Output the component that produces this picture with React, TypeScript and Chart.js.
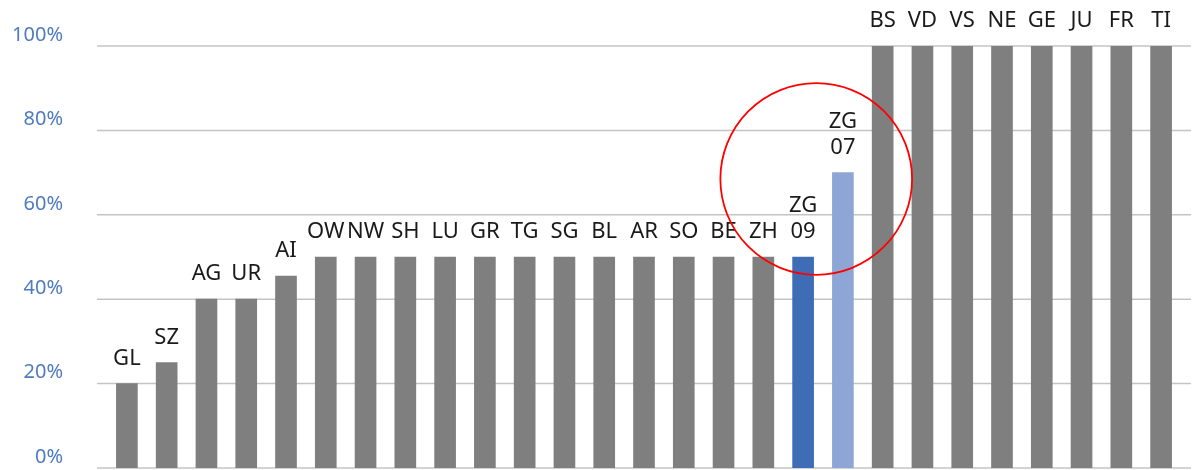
import React, { useEffect, useRef } from "react";
import { Chart, registerables } from "chart.js";

Chart.register(...registerables);

const CATEGORIES: string[] = [
  "GL", "SZ", "AG", "UR", "AI", "OW", "NW", "SH", "LU", "GR", "TG", "SG", "BL", "AR",
  "SO", "BE", "ZH", "ZG\n09", "ZG\n07", "BS", "VD", "VS", "NE", "GE", "JU", "FR", "TI",
];
const VALUES: number[] = [
  20, 25, 40, 40, 45.5, 50, 50, 50, 50, 50, 50, 50, 50, 50,
  50, 50, 50, 50, 70, 100, 100, 100, 100, 100, 100, 100, 100,
];
const Y_TICKS: number[] = [0, 20, 40, 60, 80, 100];
const HIGHLIGHT_DARK = "ZG\n09";
const HIGHLIGHT_LIGHT = "ZG\n07";
// annotation circle (category index / value units)
const CIRCLE_CENTER_INDEX = 17.33;
const CIRCLE_CENTER_VALUE = 68.5;
const CIRCLE_RADIUS_CATS = 2.41;

const FONT = "'Noto Sans', 'DejaVu Sans', sans-serif";
const GRID_EXTEND = 10;

export default function App() {
  const ref = useRef<HTMLCanvasElement | null>(null);

  useEffect(() => {
    if (!ref.current) return;
    const colors = CATEGORIES.map((c) =>
      c === HIGHLIGHT_DARK ? "#3E6DB6" : c === HIGHLIGHT_LIGHT ? "#8EA6D6" : "#7F7F7F"
    );

    const gridPlugin = {
      id: "extGrid",
      beforeDatasetsDraw(chart: any) {
        const ctx = chart.ctx;
        const ys = chart.scales.y;
        const { left, right } = chart.chartArea;
        ctx.save();
        ctx.strokeStyle = "#C4C4C4";
        ctx.lineWidth = 1.5;
        Y_TICKS.forEach((v) => {
          const y = ys.getPixelForValue(v);
          ctx.beginPath();
          ctx.moveTo(left - GRID_EXTEND, y);
          ctx.lineTo(right + GRID_EXTEND, y);
          ctx.stroke();
        });
        ctx.restore();
      },
    };

    const labelPlugin = {
      id: "barLabels",
      afterDatasetsDraw(chart: any) {
        const ctx = chart.ctx;
        const meta = chart.getDatasetMeta(0);
        ctx.save();
        ctx.font = `22px ${FONT}`;
        ctx.fillStyle = "#1A1A1A";
        ctx.textAlign = "center";
        ctx.textBaseline = "middle";
        meta.data.forEach((bar: any, i: number) => {
          const lines = CATEGORIES[i].split("\n");
          const n = lines.length;
          lines.forEach((line, k) => {
            ctx.fillText(line, bar.x, bar.y - 25 - (n - 1 - k) * 26);
          });
        });
        ctx.restore();
      },
    };

    const circlePlugin = {
      id: "circle",
      afterDraw(chart: any) {
        const ctx = chart.ctx;
        const xs = chart.scales.x;
        const ys = chart.scales.y;
        const step = xs.getPixelForValue(1) - xs.getPixelForValue(0);
        const cx = xs.getPixelForValue(0) + step * CIRCLE_CENTER_INDEX;
        const cy = ys.getPixelForValue(CIRCLE_CENTER_VALUE);
        const r = step * CIRCLE_RADIUS_CATS;
        ctx.save();
        ctx.strokeStyle = "#FF0000";
        ctx.lineWidth = 1.8;
        ctx.beginPath();
        ctx.arc(cx, cy, r, 0, Math.PI * 2);
        ctx.stroke();
        ctx.restore();
      },
    };

    const chart = new Chart(ref.current, {
      type: "bar",
      data: {
        labels: CATEGORIES,
        datasets: [
          {
            data: VALUES,
            backgroundColor: colors,
            borderWidth: 0,
            barThickness: 21,
          },
        ],
      },
      options: {
        animation: false,
        responsive: true,
        maintainAspectRatio: false,
        layout: { padding: { top: 46, bottom: 2, right: 11, left: 0 } },
        plugins: { legend: { display: false }, tooltip: { enabled: false } },
        scales: {
          x: {
            display: false,
            grid: { display: false },
          },
          y: {
            min: 0,
            max: 100,
            afterFit: (s: any) => {
              s.width = 107;
              s.paddingTop = 0;
              s.paddingBottom = 0;
            },
            afterBuildTicks: (s: any) => {
              s.ticks = Y_TICKS.map((v) => ({ value: v }));
            },
            border: { display: false },
            grid: { display: false, drawTicks: false },
            ticks: {
              padding: 44,
              labelOffset: -11,
              color: "#4F7BC0",
              font: { family: FONT, size: 20 },
              callback: (v: any) => `${v}%`,
            },
          },
        },
      },
      plugins: [gridPlugin, labelPlugin, circlePlugin],
    } as any);
    return () => chart.destroy();
  }, []);

  return (
    <div style={{ position: "absolute", left: 0, top: 0, width: 1192, height: 470, background: "#fff" }}>
      <canvas ref={ref} />
    </div>
  );
}
